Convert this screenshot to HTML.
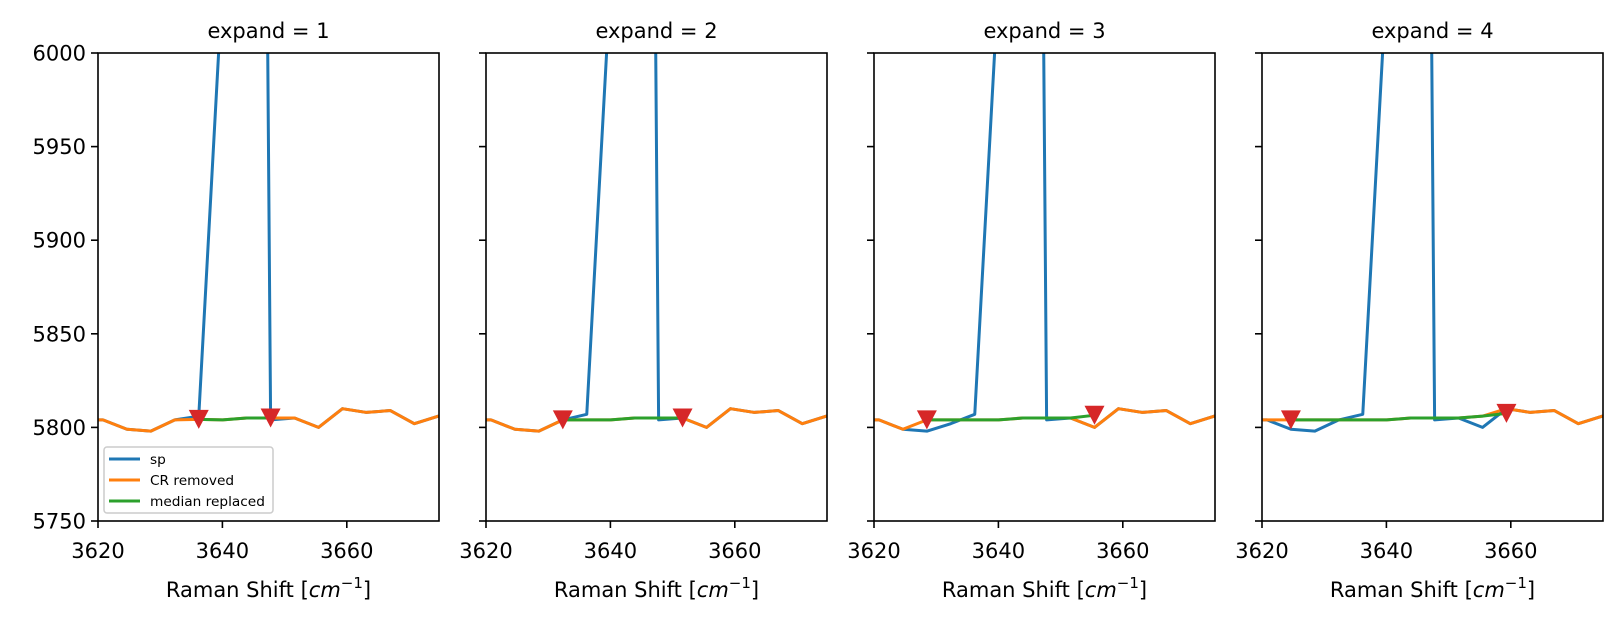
<!DOCTYPE html>
<html><head><meta charset="utf-8"><style>
html,body{margin:0;padding:0;background:#fff}
svg{display:block}
text{font-family:"DejaVu Sans","Liberation Sans",sans-serif;fill:#000}
</style></head><body>
<svg id="s" width="1623" height="623" viewBox="0 0 1623 623" xmlns="http://www.w3.org/2000/svg"></svg>
<script>
const S=document.getElementById('s');
let h='';
const lefts=[98,486,874,1262],W=341,T=53,B=521;
const sx=6.22, sy=1.872;
const base=[5804,5804,5799,5798,5804,5804,5804,5805,5805,5805,5800,5810,5808,5809,5802,5806,5808];
// index k => i=k-1
const xi=i=>3620.8+3.85*i;
const cfg=[
 {s:4,e:7,g:[5804.3,5804,5805,5805],sp:{4:5806,5:6040,6:7437,7:5804}},
 {s:3,e:8,g:[5804,5804,5804,5805,5805,5805],sp:{4:5807,5:6040,6:7437,7:5804}},
 {s:2,e:9,g:[5804,5804,5804,5804,5805,5805,5805,5806.5],sp:{3:5802,4:5807,5:6040,6:7437,7:5804}},
 {s:1,e:10,g:[5804,5804,5804,5804,5804,5805,5805,5805,5806,5807.5],sp:{3:5804,4:5807,5:6040,6:7437,7:5804}}
];
cfg.forEach((c,p)=>{
 const L=lefts[p];
 const X=x=>(L+(x-3620)*sx).toFixed(2), Y=y=>(T+(6000-y)*sy).toFixed(2);
 h+=`<clipPath id="c${p}"><rect x="${L}" y="${T}" width="${W}" height="${B-T}"/></clipPath>`;
 let blue=[],or=[],gr=[];
 for(let i=-1;i<=15;i++){
  let b=base[i+1];
  let sv=(c.sp[i]!==undefined)?c.sp[i]:b;
  blue.push(X(xi(i))+','+Y(sv));
  let o=b; if(i>=c.s&&i<c.e) o=c.g[i-c.s];
  or.push(X(xi(i))+','+Y(o));
 }
 c.g.forEach((v,k)=>gr.push(X(xi(c.s+k))+','+Y(v)));
 h+=`<g clip-path="url(#c${p})" fill="none" stroke-width="3" stroke-linejoin="round" stroke-linecap="square">
 <polyline points="${blue.join(' ')}" stroke="#1f77b4"/>
 <polyline points="${or.join(' ')}" stroke="#ff7f0e"/>
 <polyline points="${gr.join(' ')}" stroke="#2ca02c"/></g>`;
 [[c.s,c.g[0]],[c.e,c.g[c.g.length-1]]].forEach(([i,v])=>{
   const cx=+X(xi(i)), cy=+Y(v);
   h+=`<polygon points="${cx-10},${cy-9.5} ${cx+10},${cy-9.5} ${cx},${cy+9.5}" fill="#d62728"/>`;
 });
 // spines
 h+=`<rect x="${L}" y="${T}" width="${W}" height="${B-T}" fill="none" stroke="#000" stroke-width="1.6"/>`;
 // x ticks
 [3620,3640,3660].forEach(t=>{const x=X(t);
  h+=`<line x1="${x}" y1="${B}" x2="${x}" y2="${B+7}" stroke="#000" stroke-width="1.6"/>`;
  h+=`<text x="${x}" y="${B+37}" font-size="21" text-anchor="middle">${t}</text>`;});
 // y ticks
 for(let v=5750;v<=6000;v+=50){const y=Y(v);
  h+=`<line x1="${L-7}" y1="${y}" x2="${L}" y2="${y}" stroke="#000" stroke-width="1.6"/>`;
  if(p==0) h+=`<text x="${L-12}" y="${+y+7.5}" font-size="21" text-anchor="end">${v}</text>`;}
 const cxm=L+W/2;
 h+=`<text x="${cxm}" y="38" font-size="21" text-anchor="middle">expand = ${p+1}</text>`;
 h+=`<text x="${cxm}" y="597" font-size="21" text-anchor="middle">Raman Shift [<tspan font-style="italic">cm</tspan><tspan font-size="15" dy="-9">−1</tspan><tspan dy="9">]</tspan></text>`;
});
// legend
h+=`<rect x="104" y="447" width="169" height="66" rx="3" fill="#fff" fill-opacity="0.8" stroke="#ccc" stroke-width="1.5"/>`;
[['sp','#1f77b4',459],['CR removed','#ff7f0e',480],['median replaced','#2ca02c',501]].forEach(([t,c,y])=>{
 h+=`<line x1="109" y1="${y}" x2="140" y2="${y}" stroke="${c}" stroke-width="3"/>`;
 h+=`<text x="150" y="${y+5}" font-size="13.7">${t}</text>`;
});
S.innerHTML=h;
</script>
</body></html>
